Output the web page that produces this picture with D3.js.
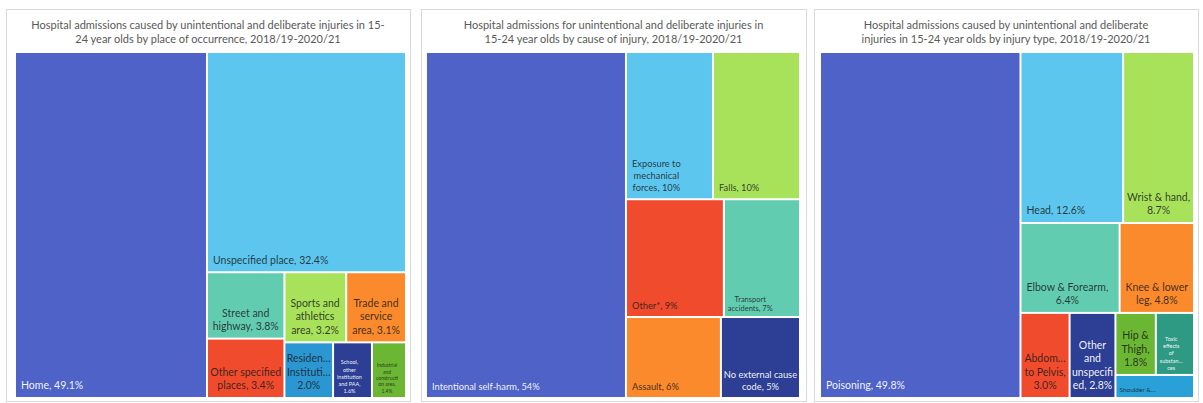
<!DOCTYPE html>
<html>
<head>
<meta charset="utf-8">
<script src="https://cdn.jsdelivr.net/npm/d3@7"></script>
<style>
  body { margin: 0; background: #fff; }
  svg { display: block; }
  text { font-family: Lato, "Liberation Sans", sans-serif; }
</style>
</head>
<body>
<svg id="chart" width="1203" height="403"></svg>
<script>
// ---- Place of occurrence ----
const placeCategories = ["Home", "Unspecified place", "Street and highway", "Other specified places",
  "Sports and athletics area", "Trade and service area", "Residential institution",
  "School, other institution and PAA", "Industrial and construction area"];
const placeValues = [49.1, 32.4, 3.8, 3.4, 3.2, 3.1, 2.0, 1.6, 1.4];
const placeLabels = [["Home, {v}%"], ["Unspecified place, {v}%"], ["Street and", "highway, {v}%"],
  ["Other specified", "places, {v}%"], ["Sports and", "athletics", "area, {v}%"],
  ["Trade and", "service", "area, {v}%"], ["Residen…", "Instituti…", "{v}%"],
  ["School,", "other", "institution", "and PAA,", "{v}%"],
  ["Industrial", "and", "constructi", "on area,", "{v}%"]];

// ---- Cause of injury ----
const causeCategories = ["Intentional self-harm", "Exposure to mechanical forces", "Falls", "Other*",
  "Transport accidents", "Assault", "No external cause code"];
const causeValues = [54, 10, 10, 9, 7, 6, 5];
const causeLabels = [["Intentional self-harm, {v}%"], ["Exposure to", "mechanical", "forces, {v}%"],
  ["Falls, {v}%"], ["Other*, {v}%"], ["Transport", "accidents, {v}%"], ["Assault, {v}%"],
  ["No external cause", "code, {v}%"]];

// ---- Injury type ----
const typeCategories = ["Poisoning", "Head", "Wrist & hand", "Elbow & Forearm", "Knee & lower leg",
  "Abdomen to Pelvis", "Other and unspecified", "Hip & Thigh", "Toxic effects of substances",
  "Shoulder & upper arm"];
const typeValues = [49.8, 12.6, 8.7, 6.4, 4.8, 3.0, 2.8, 1.8, 1.7, 1.3];
const typeLabels = [["Poisoning, {v}%"], ["Head, {v}%"], ["Wrist & hand,", "{v}%"],
  ["Elbow & Forearm,", "{v}%"], ["Knee  & lower", "leg, {v}%"], ["Abdom…", "to Pelvis,", "{v}%"],
  ["Other", "and", "unspecifi", "ed, {v}%"], ["Hip &", "Thigh,", "{v}%"],
  ["Toxic", "effects", "of", "substan…", "ces"], ["Shoulder &…"]];

const titles = [
  ["Hospital admissions caused by unintentional and deliberate injuries in 15-",
   "24 year olds by place of occurrence, 2018/19-2020/21"],
  ["Hospital admissions for unintentional and deliberate injuries in",
   "15-24 year olds by cause of injury, 2018/19-2020/21"],
  ["Hospital admissions caused by unintentional and deliberate",
   "injuries in 15-24 year olds by injury type, 2018/19-2020/21"]
];

// ---- Styling ----
const C = {
  royal: "#4e62c8", sky: "#5cc6ef", mint: "#62ccb1", red: "#f04b2d", lime: "#a8e25a",
  orange: "#fa8a2b", cerulean: "#2a97d3", navy: "#2d3f95", green: "#6bb632",
  teal: "#2e9a84", azure: "#2aa0d8"
};
const fills = [
  [C.royal, C.sky, C.mint, C.red, C.lime, C.orange, C.cerulean, C.navy, C.green],
  [C.royal, C.sky, C.lime, C.red, C.mint, C.orange, C.navy],
  [C.royal, C.sky, C.lime, C.mint, C.orange, C.red, C.navy, C.green, C.teal, C.azure]
];
const lightText = new Set(["Home", "Intentional self-harm", "Poisoning", "School, other institution and PAA",
  "No external cause code", "Other and unspecified", "Toxic effects of substances"]);
const fontSizes = {
  "School, other institution and PAA": 5.5, "Industrial and construction area": 5,
  "Transport accidents": 7.5, "Toxic effects of substances": 5.5, "Shoulder & upper arm": 6.5
};
const panelFont = [10.5, 9.3, 10.5];
const formats = [d3.format(".1f"), d3.format("d"), d3.format(".1f")];

// Items per strip, laid out in order from the largest value downwards
const strips = [[1, 1, 2, 2, 1, 1, 1], [1, 2, 2, 1, 1], [1, 2, 2, 1, 1, 2, 1]];

const panels = [
  { card: [6, 9, 404, 392], plot: [16, 53, 389, 344] },
  { card: [421, 9, 385, 392], plot: [427, 53, 372, 344] },
  { card: [814, 9, 384, 392], plot: [821, 53, 372, 344] }
];

const datasets = [
  { cats: placeCategories, vals: placeValues, labels: placeLabels },
  { cats: causeCategories, vals: causeValues, labels: causeLabels },
  { cats: typeCategories, vals: typeValues, labels: typeLabels }
];

// Strip tiling: each strip runs along the shorter side of the space left over,
// with its thickness proportional to the strip's total value.
function stripTile(counts) {
  return function (parent, x0, y0, x1, y1) {
    const nodes = parent.children;
    let remaining = parent.value, i0 = 0, k = 0;
    while (i0 < nodes.length) {
      const n = counts[k++] || (nodes.length - i0);
      const row = { children: nodes.slice(i0, i0 + n) };
      row.value = d3.sum(row.children, d => d.value);
      const last = i0 + n >= nodes.length;
      const dx = x1 - x0, dy = y1 - y0;
      if (dx < dy) {
        const yy = last ? y1 : y0 + dy * row.value / remaining;
        d3.treemapDice(row, x0, y0, x1, yy);
        y0 = yy;
      } else {
        const xx = last ? x1 : x0 + dx * row.value / remaining;
        d3.treemapSlice(row, x0, y0, xx, y1);
        x0 = xx;
      }
      remaining -= row.value;
      i0 += n;
    }
  };
}

const svg = d3.select("#chart");

panels.forEach((p, pi) => {
  const ds = datasets[pi];
  const [cx, cy, cw, ch] = p.card;
  const [px, py, pw, ph] = p.plot;

  svg.append("rect")
    .attr("x", cx + 0.5).attr("y", cy + 0.5).attr("width", cw).attr("height", ch)
    .attr("fill", "#fff").attr("stroke", "#d9d9d9");

  const title = svg.append("text")
    .attr("x", cx + cw / 2).attr("y", 29)
    .attr("text-anchor", "middle").attr("fill", "#595959").attr("font-size", 11);
  titles[pi].forEach((t, i) => title.append("tspan").attr("x", cx + cw / 2).attr("dy", i ? 14 : 0).text(t));

  const items = ds.cats.map((c, i) => ({ name: c, value: ds.vals[i], label: ds.labels[i], fill: fills[pi][i] }));
  const root = d3.hierarchy({ children: items })
    .sum(d => d.value || 0)
    .sort((a, b) => b.value - a.value);

  d3.treemap()
    .tile(stripTile(strips[pi]))
    .size([pw, ph])
    .paddingInner(2)(root);

  const g = svg.append("g").attr("transform", `translate(${px},${py})`);
  const cell = g.selectAll("g").data(root.leaves()).join("g");

  cell.append("rect")
    .attr("x", d => d.x0).attr("y", d => d.y0)
    .attr("width", d => d.x1 - d.x0).attr("height", d => d.y1 - d.y0)
    .attr("fill", d => d.data.fill);

  // Labels sit at the bottom-left of each tile; wrapped lines are centred on each other
  cell.each(function (d) {
    const fs = fontSizes[d.data.name] || panelFont[pi];
    const lines = d.data.label.map(s => s.replace("{v}", formats[pi](d.data.value)));
    const lh = fs * 1.28;
    const pad = fs < 8 ? 3 : 5;
    const light = lightText.has(d.data.name);
    const text = d3.select(this).append("text")
      .attr("font-size", fs)
      .attr("fill", light ? "#ffffff" : "#1b1b1b")
      .attr("fill-opacity", light ? 0.95 : 0.85);
    const baseY = d.y1 - pad - fs * 0.25 - (lines.length - 1) * lh;
    const spans = lines.map((l, i) => text.append("tspan").attr("y", baseY + i * lh).text(l));
    const blockW = d3.max(spans, s => s.node().getComputedTextLength());
    const mid = blockW + 2 * pad >= d.x1 - d.x0 ? (d.x0 + d.x1) / 2 : d.x0 + pad + blockW / 2;
    text.attr("text-anchor", "middle");
    spans.forEach(s => s.attr("x", mid));
  });
});
</script>
</body>
</html>
